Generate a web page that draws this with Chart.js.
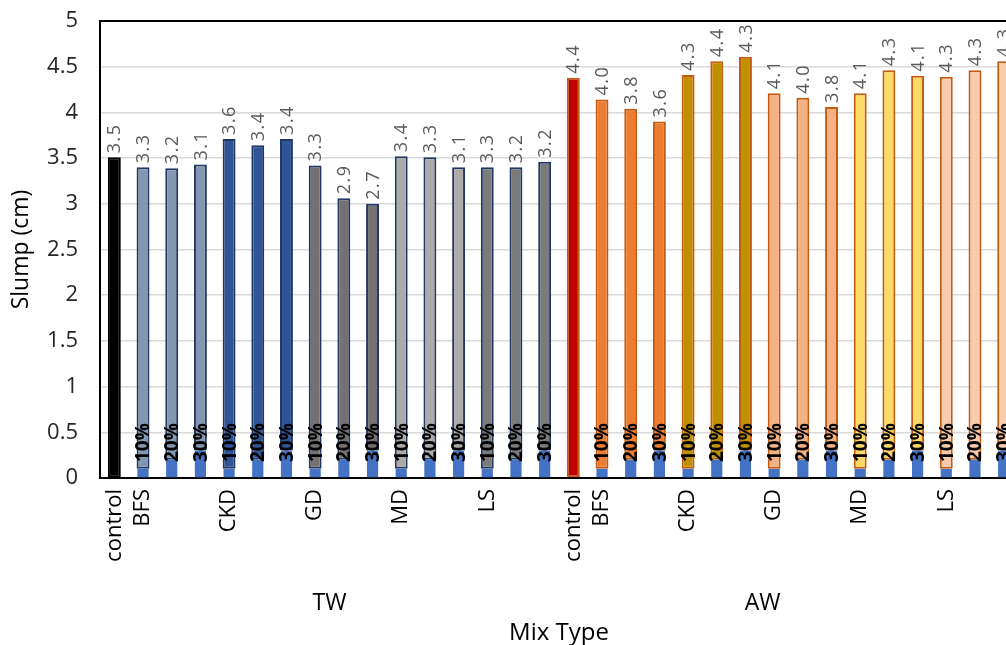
<!DOCTYPE html>
<html>
<head>
<meta charset="utf-8">
<script src="https://cdn.jsdelivr.net/npm/chart.js@4.4.1/dist/chart.umd.min.js"></script>
<style>
  html, body { margin: 0; padding: 0; background: #ffffff; overflow: hidden; }
  #wrap { width: 1006px; height: 645px; overflow: hidden; }
  canvas { display: block; }
</style>
</head>
<body>
<div id="wrap"><canvas id="chart" width="1018" height="645"></canvas></div>
<script>
// Mix groups (water type) and materials
const groups = ['TW', 'AW'];
const tickLabels = ['control', 'BFS', '', '', 'CKD', '', '', 'GD', '', '', 'MD', '', '', 'LS', '', ''];
const replacement = ['', '10%', '20%', '30%', '10%', '20%', '30%', '10%', '20%', '30%', '10%', '20%', '30%', '10%', '20%', '30%'];
// Base segment height under each replacement bar
const baseSegment = [0, 0.1, 0.2, 0.3, 0.1, 0.2, 0.3, 0.1, 0.2, 0.3, 0.1, 0.2, 0.3, 0.1, 0.2, 0.3];

// Slump (cm)
const slumpTW = [3.51, 3.30, 3.19, 3.13, 3.61, 3.44, 3.41, 3.32, 2.86, 2.70, 3.42, 3.31, 3.10, 3.30, 3.20, 3.16];
const slumpAW = [4.38, 4.04, 3.84, 3.60, 4.31, 4.36, 4.31, 4.11, 3.96, 3.76, 4.11, 4.26, 4.10, 4.29, 4.26, 4.26];

// Fill colours per material, per group
const fillTW = ['#000000', '#8497B0', '#2F5597', '#767171', '#AEAAAA', '#7B7B7B'];
const fillAW = ['#C00000', '#ED7D31', '#BF9000', '#F4B183', '#FFD966', '#F8CBAD'];
const edgeTW = '#1F3864';
const edgeAW = '#C55A11';
const baseColor = '#4472C4';

// Build per-bar arrays
const materialIndex = i => (i === 0 ? 0 : Math.floor((i - 1) / 3) + 1);
const labels = [];
const allTicks = [];
const allPct = [];
const allBase = [];
const allSlump = [];
const fills = [];
const edges = [];
groups.forEach((g, gi) => {
  const vals = gi === 0 ? slumpTW : slumpAW;
  const fill = gi === 0 ? fillTW : fillAW;
  tickLabels.forEach((t, i) => {
    labels.push(g + ' ' + (t || tickLabels[Math.floor((i - 1) / 3) * 3 + 1]) + ' ' + replacement[i]);
    allTicks.push(t);
    allPct.push(replacement[i]);
    allBase.push(baseSegment[i]);
    allSlump.push(vals[i]);
    fills.push(fill[materialIndex(i)]);
    edges.push(gi === 0 ? (i === 0 ? '#000000' : edgeTW) : edgeAW);
  });
});

const FONT = "'Open Sans', 'Liberation Sans', sans-serif";

// Text drawn on top of the bars: values, replacement levels, group names
const annotate = {
  id: 'annotate',
  afterDatasetsDraw(chart, args, opts) {
    const ctx = chart.ctx;
    const area = chart.chartArea;
    const baseMeta = chart.getDatasetMeta(0);
    const mainMeta = chart.getDatasetMeta(1);
    ctx.save();
    // top frame line
    ctx.strokeStyle = '#000000';
    ctx.lineWidth = 2;
    ctx.beginPath();
    ctx.moveTo(area.left - 1, area.top);
    ctx.lineTo(area.right, area.top);
    ctx.stroke();

    mainMeta.data.forEach((bar, i) => {
      // value label, rotated, reading upward
      ctx.save();
      ctx.translate(bar.x, bar.y - 4);
      ctx.rotate(-Math.PI / 2);
      ctx.font = '18px ' + FONT;
      ctx.letterSpacing = '1.5px';
      ctx.fillStyle = '#595959';
      ctx.textAlign = 'left';
      ctx.textBaseline = 'middle';
      ctx.fillText(allSlump[i].toFixed(1), 0, 1);
      ctx.restore();

      if (allPct[i]) {
        const b = baseMeta.data[i];
        ctx.save();
        ctx.translate(b.x, chart.scales.y.getPixelForValue(0) - 16);
        ctx.rotate(-Math.PI / 2);
        ctx.font = 'bold 19px ' + FONT;
        ctx.letterSpacing = '0px';
        ctx.fillStyle = '#000000';
        ctx.textAlign = 'left';
        ctx.textBaseline = 'middle';
        ctx.fillText(allPct[i], 0, 1);
        ctx.restore();
      }
    });

    // group names and axis title
    const xs = chart.scales.x;
    ctx.fillStyle = '#000000';
    ctx.textAlign = 'center';
    ctx.textBaseline = 'middle';
    ctx.font = '23px ' + FONT;
    groups.forEach((g, gi) => {
      ctx.fillText(g, xs.getPixelForValue(opts.groupCenters[gi]), opts.groupY);
    });
    ctx.font = '24px ' + FONT;
    ctx.fillText('Mix Type', (area.left + area.right) / 2, opts.titleY);
    ctx.restore();
  }
};

new Chart(document.getElementById('chart'), {
  type: 'bar',
  data: {
    labels: labels,
    datasets: [
      {
        label: 'replacement',
        data: allBase,
        backgroundColor: baseColor,
        borderWidth: 0,
        barPercentage: 0.39,
        categoryPercentage: 1
      },
      {
        label: 'Slump',
        data: allSlump,
        backgroundColor: fills,
        borderColor: edges,
        borderWidth: 2,
        borderSkipped: false,
        barPercentage: 0.45,
        categoryPercentage: 1
      }
    ]
  },
  options: {
    responsive: false,
    animation: false,
    layout: { padding: { left: 0, top: 21, right: 0, bottom: 0 } },
    plugins: {
      legend: { display: false },
      tooltip: { enabled: false },
      annotate: { groupCenters: [7.5, 22.6], groupY: 603, titleY: 633 }
    },
    scales: {
      x: {
        stacked: true,
        grid: { display: false, drawTicks: false },
        border: { display: true, color: '#000000', width: 2 },
        afterFit(scale) {
          scale.height = 167;
          scale.paddingLeft = 0;
          scale.paddingRight = 0;
        },
        ticks: {
          autoSkip: false,
          maxRotation: 90,
          minRotation: 90,
          padding: 11,
          color: '#000000',
          font: { family: FONT, size: 22 },
          callback: (v, i) => allTicks[i]
        }
      },
      y: {
        stacked: true,
        min: 0,
        max: 5,
        afterFit(scale) {
          scale.width = 100;
          scale.paddingTop = 0;
          scale.paddingBottom = 0;
        },
        grid: { color: '#D9D9D9', lineWidth: 1.5, drawTicks: false },
        border: { display: true, color: '#000000', width: 2 },
        ticks: {
          stepSize: 0.5,
          padding: 22,
          color: '#262626',
          font: { family: FONT, size: 22 },
          callback: v => String(v)
        },
        title: {
          display: true,
          text: 'Slump (cm)',
          color: '#000000',
          font: { family: FONT, size: 23 },
          padding: { top: 8, bottom: 0 }
        }
      }
    }
  },
  plugins: [annotate]
});
</script>
</body>
</html>
